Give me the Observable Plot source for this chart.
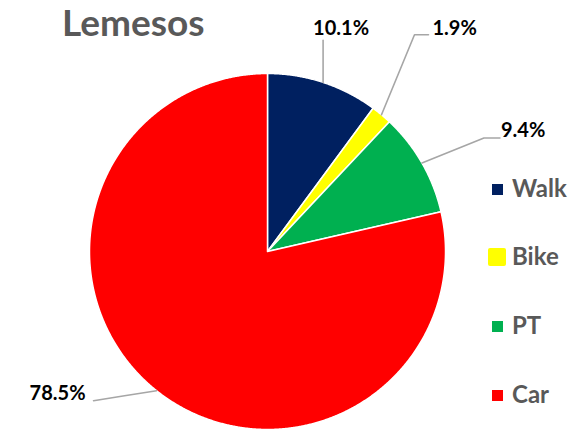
<!DOCTYPE html>
<html><head><meta charset="utf-8">
<script src="https://cdn.jsdelivr.net/npm/d3@7"></script>
<script src="https://cdn.jsdelivr.net/npm/@observablehq/plot@0.6"></script>
<style>
body{margin:0;background:#fff;}
#wrap{position:relative;width:572px;height:429px;overflow:hidden;font-family:Lato,"Open Sans",sans-serif;}
#chart{position:absolute;left:0;top:0;}
#title{position:absolute;left:62px;top:-3px;font-size:37px;font-weight:bold;color:#595959;line-height:50px;}
.lg{position:absolute;left:512px;font-size:24px;font-weight:bold;color:#595959;line-height:28px;}
.sw{position:absolute;}
</style></head><body>
<div id="wrap"><div id="chart"></div><div id="title">Lemesos</div><div id="legend"></div></div>
<script>
const categories = ["Walk", "Bike", "PT", "Car"];
const shares = [10.1, 1.9, 9.4, 78.5];
const labels = ["10.1%", "1.9%", "9.4%", "78.5%"];
const colors = ["#002060", "#FFFF00", "#00B050", "#FF0000"];

// layout (pixels)
const R = 178, CX = 267, CY = 251;
const px = (dx) => dx / R, py = (dy) => -dy / R;
const labelLayout = [
  {elbow: [0, -42], end: [0, -42], text: [18, -54], anchor: "middle"},
  {elbow: [33, -80], end: [47, -80], text: [51, -86], anchor: "start"},
  {elbow: [62, -25], end: [78, -25], text: [79, -32], anchor: "start"},
  {elbow: [-32, 5], end: [-63, 10], text: [-71, 3], anchor: "end"}
];
const legendY = [189, 257, 326, 395];

const total = d3.sum(shares);
let cum = 0;
const slices = categories.map((c, i) => {
  const a0 = cum / total * 2 * Math.PI;
  cum += shares[i];
  const a1 = cum / total * 2 * Math.PI;
  return {cat: c, a0, a1, mid: (a0 + a1) / 2, color: colors[i], label: labels[i]};
});

const marks = [];
slices.forEach((s) => {
  const n = Math.max(2, Math.ceil((s.a1 - s.a0) / 0.005));
  const pts = [{x: 0, y: 0}];
  for (let k = 0; k <= n; k++) {
    const a = s.a0 + (s.a1 - s.a0) * k / n;
    pts.push({x: Math.sin(a), y: Math.cos(a)});
  }
  pts.push({x: 0, y: 0});
  marks.push(Plot.line(pts, {x: "x", y: "y", fill: s.color, stroke: "white", strokeWidth: 1.5, strokeLinejoin: "round"}));
});

slices.forEach((s, i) => {
  const L = labelLayout[i];
  const ax = Math.sin(s.mid), ay = Math.cos(s.mid);
  const line = [
    {x: ax, y: ay},
    {x: ax + px(L.elbow[0]), y: ay + py(L.elbow[1])},
    {x: ax + px(L.end[0]), y: ay + py(L.end[1])}
  ];
  marks.push(Plot.line(line, {x: "x", y: "y", stroke: "#A6A6A6", strokeWidth: 1.6}));
  marks.push(Plot.text([{x: ax + px(L.text[0]), y: ay + py(L.text[1]), t: s.label}], {
    x: "x", y: "y", text: "t", textAnchor: L.anchor, fill: "#000",
    fontSize: 20, fontWeight: "bold", fontFamily: "Lato, 'Open Sans', sans-serif"
  }));
});

const chart = Plot.plot({
  width: 572, height: 429,
  margin: 0,
  x: {domain: [-1, 1], range: [CX - R, CX + R], axis: null},
  y: {domain: [-1, 1], range: [CY + R, CY - R], axis: null},
  marks
});
document.getElementById("chart").appendChild(chart);

const leg = document.getElementById("legend");
categories.forEach((c, i) => {
  const big = c === "Bike";
  const sz = big ? 18 : 11;
  const sw = document.createElement("div");
  sw.className = "sw";
  sw.style.left = (big ? 488 : 492) + "px";
  sw.style.top = (legendY[i] - sz / 2) + "px";
  sw.style.width = sz + "px";
  sw.style.height = sz + "px";
  sw.style.background = colors[i];
  if (big) sw.style.borderRadius = "2px";
  leg.appendChild(sw);
  const t = document.createElement("div");
  t.className = "lg";
  t.style.top = (legendY[i] - 15) + "px";
  t.textContent = c;
  leg.appendChild(t);
});
</script>
</body></html>
